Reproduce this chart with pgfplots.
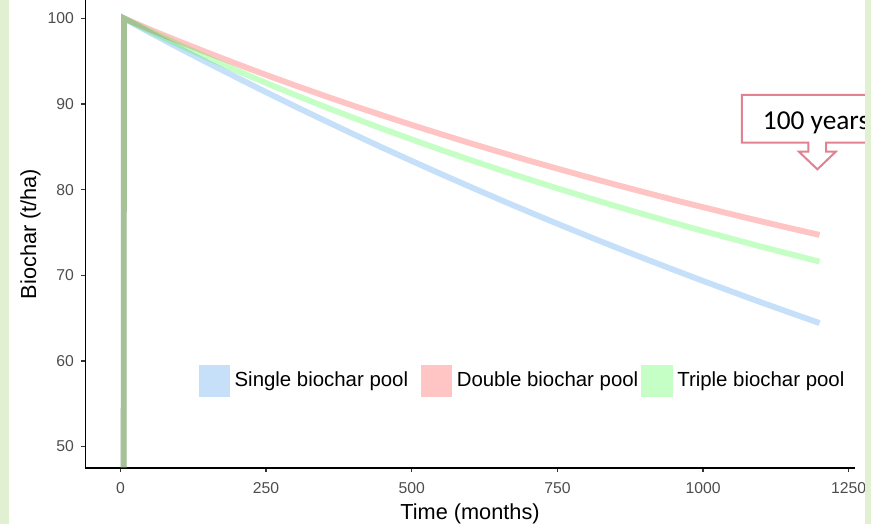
\documentclass[border=0pt]{standalone}
\usepackage{pgfplots}
\pgfplotsset{compat=1.18}
\usepackage{fontspec}
\setmainfont{Liberation Sans}
\newfontfamily\carlito{Carlito}
\definecolor{singlec}{RGB}{27,131,235}
\definecolor{doublec}{RGB}{255,19,19}
\definecolor{triplec}{RGB}{27,255,27}
\definecolor{singlek}{RGB}{198,224,250}
\definecolor{doublek}{RGB}{255,196,196}
\definecolor{triplek}{RGB}{198,255,198}
\definecolor{ticktext}{HTML}{4D4D4D}
\definecolor{sidegreen}{RGB}{224,240,208}
\definecolor{callout}{RGB}{224,130,146}

\begin{document}
\begin{tikzpicture}
\begin{axis}[
    scale only axis,
    width=576.75pt, height=351pt,
    xmin=-60, xmax=1260,
    ymin=47.5, ymax=102.14,
    axis lines=left,
    axis line style={line width=1.1pt, -},
    xtick={0,250,500,750,1000,1250},
    ytick={50,60,70,80,90,100},
    tick align=outside,
    major tick length=3pt,
    tick style={line width=1pt, color=black!80},
    /pgf/number format/assume math mode=true,
    /pgf/number format/set thousands separator={},
    ticklabel style={font=\fontsize{11.8}{12}\selectfont, text=ticktext},
    xticklabel style={anchor=north, inner sep=0pt, yshift=-7.8pt},
    yticklabel style={anchor=east, inner sep=0pt, xshift=-5.5pt},
    xlabel={Time (months)},
    ylabel={Biochar (t/ha)},
    every axis x label/.style={at={(axis description cs:0.5,0)}, anchor=base, yshift=-39pt,
        font=\fontsize{16.3}{17}\selectfont},
    every axis y label/.style={at={(axis description cs:-0.0715,0.5)}, rotate=90, anchor=center,
        font=\fontsize{16.3}{17}\selectfont},
    legend columns=3,
    legend style={draw=none, fill=none, at={(axis description cs:0.567,0.187)}, anchor=center,
        font=\fontsize{15.3}{16}\selectfont, inner sep=0pt,
        nodes={inner sep=0pt, anchor=west},
        /tikz/column 2/.style={column sep=9.5pt},
        /tikz/column 4/.style={column sep=2.3pt}},
]
\addplot[forget plot, singlec, draw opacity=0.25, line width=4.4pt] coordinates {
(5,0) (6,100) (50,98.36) (100,96.56) (150,94.80) (200,93.08) (250,91.38) (300,89.71)
(350,88.08) (400,86.47) (450,84.89) (500,83.35) (550,81.83) (600,80.34) (650,78.87)
(700,77.43) (750,76.02) (800,74.63) (850,73.27) (900,71.94) (950,70.63) (1000,69.34)
(1050,68.08) (1100,66.83) (1150,65.62) (1200,64.42)
};
\addplot[forget plot, doublec, draw opacity=0.25, line width=4.4pt] coordinates {
(5,0) (6,100) (50,98.71) (100,97.32) (150,95.98) (200,94.67) (250,93.39) (300,92.16)
(350,90.96) (400,89.79) (450,88.66) (500,87.55) (550,86.48) (600,85.43) (650,84.41)
(700,83.41) (750,82.45) (800,81.50) (850,80.58) (900,79.68) (950,78.80) (1000,77.95)
(1050,77.11) (1100,76.29) (1150,75.49) (1200,74.71)
};
\addplot[forget plot, triplec, draw opacity=0.25, line width=4.4pt] coordinates {
(5,0) (6,100) (50,98.52) (100,96.93) (150,95.39) (200,93.90) (250,92.45) (300,91.05)
(350,89.69) (400,88.38) (450,87.10) (500,85.86) (550,84.65) (600,83.48) (650,82.34)
(700,81.23) (750,80.15) (800,79.10) (850,78.08) (900,77.09) (950,76.12) (1000,75.17)
(1050,74.25) (1100,73.34) (1150,72.47) (1200,71.60)
};
\addlegendimage{legend image code/.code={\fill[singlek] (0pt,-11.5pt) rectangle (23pt,11.5pt); \path (26.6pt,0pt);}}
\addlegendentry{Single biochar pool}
\addlegendimage{legend image code/.code={\fill[doublek] (0pt,-11.5pt) rectangle (23pt,11.5pt); \path (26.6pt,0pt);}}
\addlegendentry{Double biochar pool}
\addlegendimage{legend image code/.code={\fill[triplek] (0pt,-11.5pt) rectangle (23pt,11.5pt); \path (26.6pt,0pt);}}
\addlegendentry{Triple biochar pool}
\end{axis}
% callout "100 years"
\draw[callout, line width=1.5pt, fill=white, line join=miter]
  (492.2pt,279.75pt) -- (620pt,279.75pt) -- (620pt,244pt) -- (555.4pt,244pt) -- (555.4pt,237.2pt)
  -- (562.7pt,237.2pt) -- (548.9pt,224pt) -- (535.1pt,237.2pt) -- (542.1pt,237.2pt)
  -- (542.1pt,244pt) -- (492.2pt,244pt) -- cycle;
\node[anchor=base west, inner sep=0pt, font=\carlito\fontsize{20.5}{21}\selectfont] at (507.9pt,254pt) {100 years};
% side strips
\fill[sidegreen] (-64.125pt,-42pt) rectangle (-57.4pt,351pt);
\fill[sidegreen] (584.6pt,-42pt) rectangle (600pt,351pt);
\pgfresetboundingbox
\path[use as bounding box] (-64.125pt,-42pt) rectangle (589.125pt,351pt);
\end{tikzpicture}
\end{document}
